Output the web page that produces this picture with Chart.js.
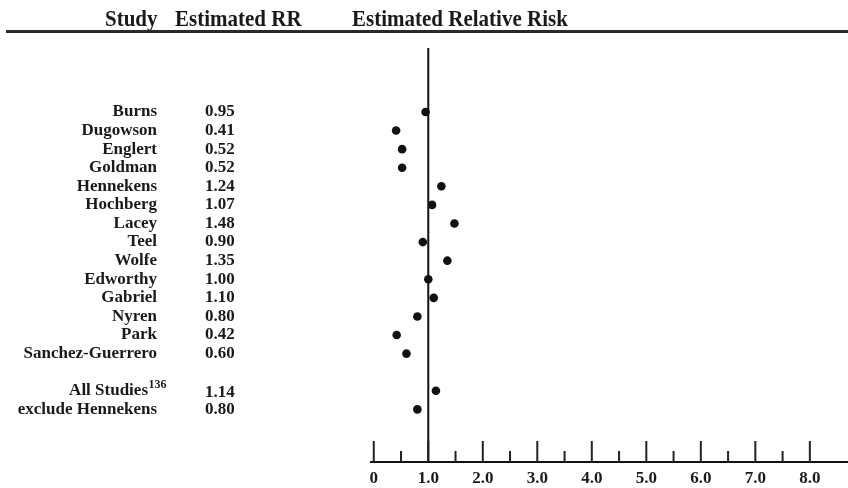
<!DOCTYPE html>
<html>
<head>
<meta charset="utf-8">
<script src="https://cdn.jsdelivr.net/npm/chart.js@4.4.1/dist/chart.umd.min.js"></script>
<style>
  html, body { margin: 0; padding: 0; background: #ffffff; }
  #wrap { width: 848px; height: 488px; position: relative; }
  canvas { display: block; }
</style>
</head>
<body>
<div id="wrap"><canvas id="c" width="848" height="488"></canvas></div>
<script>
// ---- data ----
const studies = ["Burns", "Dugowson", "Englert", "Goldman", "Hennekens", "Hochberg", "Lacey", "Teel", "Wolfe", "Edworthy", "Gabriel", "Nyren", "Park", "Sanchez-Guerrero", "", "All Studies", "exclude Hennekens"];
const estimatedRR = [0.95, 0.41, 0.52, 0.52, 1.24, 1.07, 1.48, 0.90, 1.35, 1.00, 1.10, 0.80, 0.42, 0.60, null, 1.14, 0.80];
const superscripts = { "All Studies": "136" };
const headers = ["Study", "Estimated RR", "Estimated Relative Risk"];
const majorTickValues = [0, 1, 2, 3, 4, 5, 6, 7, 8];
const majorTickLabels = ["0", "1.0", "2.0", "3.0", "4.0", "5.0", "6.0", "7.0", "8.0"];
const minorTickValues = [0.5, 1.5, 2.5, 3.5, 4.5, 5.5, 6.5, 7.5];
const referenceValue = 1;

// ---- build ----
const points = [];
studies.forEach((s, i) => {
  if (estimatedRR[i] !== null) points.push({ x: estimatedRR[i], y: i });
});

const SERIF = '"Liberation Serif", "Times New Roman", "DejaVu Serif", serif';
const INK = '#1a1a1a';

const forestPlugin = {
  id: 'forest',
  beforeDatasetsDraw(chart) {
    const ctx = chart.ctx;
    const xs = chart.scales.x, ys = chart.scales.y;
    const area = chart.chartArea;
    ctx.save();
    // header rule
    ctx.strokeStyle = '#2a2a2a';
    ctx.lineWidth = 3;
    ctx.beginPath(); ctx.moveTo(6, 31.5); ctx.lineTo(848, 31.5); ctx.stroke();
    // headers (slightly tall serif)
    ctx.fillStyle = INK;
    ctx.font = 'bold 21px ' + SERIF;
    ctx.textBaseline = 'alphabetic';
    ctx.textAlign = 'left';
    const hx = [105, 175, 352];
    headers.forEach((h, i) => {
      ctx.save();
      ctx.translate(hx[i], 26);
      ctx.scale(1, 1.14);
      ctx.fillText(h, 0, 0);
      ctx.restore();
    });
    // reference vertical line
    const rx = xs.getPixelForValue(referenceValue);
    ctx.strokeStyle = '#111';
    ctx.lineWidth = 2;
    ctx.beginPath(); ctx.moveTo(rx, area.top); ctx.lineTo(rx, area.bottom); ctx.stroke();
    // tick marks (pointing up from axis)
    ctx.lineWidth = 2;
    ctx.strokeStyle = '#222';
    majorTickValues.forEach(v => {
      const px = xs.getPixelForValue(v);
      ctx.beginPath(); ctx.moveTo(px, area.bottom); ctx.lineTo(px, area.bottom - 21); ctx.stroke();
    });
    minorTickValues.forEach(v => {
      const px = xs.getPixelForValue(v);
      ctx.beginPath(); ctx.moveTo(px, area.bottom); ctx.lineTo(px, area.bottom - 11); ctx.stroke();
    });
    // row labels
    ctx.font = 'bold 17px ' + SERIF;
    ctx.textBaseline = 'middle';
    studies.forEach((s, i) => {
      if (!s) return;
      const py = ys.getPixelForValue(i);
      const sup = superscripts[s];
      ctx.fillStyle = INK;
      if (sup) {
        ctx.font = 'bold 17px ' + SERIF;
        ctx.textAlign = 'right';
        ctx.fillText(s, 148, py);
        ctx.font = 'bold 12px ' + SERIF;
        ctx.textAlign = 'left';
        ctx.fillText(sup, 148.5, py - 6);
        ctx.font = 'bold 17px ' + SERIF;
      } else {
        ctx.textAlign = 'right';
        ctx.fillText(s, 157, py);
      }
      if (estimatedRR[i] !== null) {
        ctx.textAlign = 'left';
        ctx.fillText(estimatedRR[i].toFixed(2), 205, py + (sup ? 2 : 0));
      }
    });
    ctx.restore();
  }
};

new Chart(document.getElementById('c'), {
  type: 'scatter',
  data: {
    datasets: [{
      data: points,
      pointRadius: 4.3,
      pointHoverRadius: 4.3,
      backgroundColor: '#111',
      borderColor: '#111',
      borderWidth: 0
    }]
  },
  options: {
    responsive: false,
    animation: false,
    events: [],
    layout: { autoPadding: false, padding: { left: 370.5, top: 48, right: 0, bottom: 0 } },
    plugins: { legend: { display: false }, tooltip: { enabled: false }, title: { display: false } },
    scales: {
      x: {
        type: 'linear',
        min: -0.06,
        max: 8.7,
        afterBuildTicks: (scale) => { scale.ticks = majorTickValues.map(v => ({ value: v })); },
        afterFit: (scale) => { scale.height = 26; scale.paddingRight = 0; scale.paddingLeft = 0; },
        ticks: {
          autoSkip: false,
          maxRotation: 0,
          padding: 6,
          color: INK,
          font: { family: SERIF, size: 17, weight: 'bold' },
          callback: (v) => { const k = majorTickValues.indexOf(v); return k >= 0 ? majorTickLabels[k] : ''; }
        },
        grid: { display: true, drawOnChartArea: false, drawTicks: false },
        border: { display: true, color: '#111', width: 2 }
      },
      y: {
        type: 'linear',
        reverse: true,
        min: -3.44,
        max: 18.83,
        display: false
      }
    }
  },
  plugins: [forestPlugin]
});
</script>
</body>
</html>
